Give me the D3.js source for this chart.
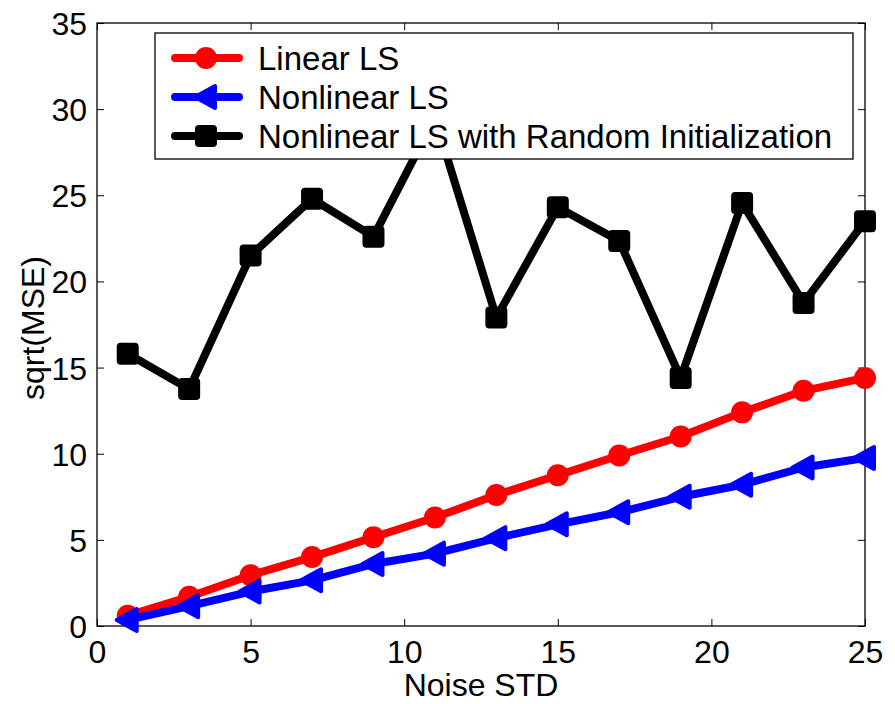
<!DOCTYPE html>
<html><head><meta charset="utf-8">
<script src="https://cdn.jsdelivr.net/npm/d3@7"></script>
<style>body{margin:0;background:#fff}svg{display:block}text{font-family:"Liberation Sans",Arial,sans-serif}</style>
</head><body>
<svg id="c" width="895" height="704"></svg>
<script>
const noiseStd = [1,3,5,7,9,11,13,15,17,19,21,23,25];
const linearLS = [0.6,1.7,2.95,4.0,5.15,6.3,7.6,8.75,9.9,11.0,12.4,13.65,14.4];
const nonlinearLS = [0.35,1.15,2.0,2.65,3.6,4.2,5.1,5.9,6.6,7.5,8.2,9.2,9.75];
const nonlinearRandom = [15.8,13.75,21.5,24.8,22.6,29.5,17.9,24.3,22.35,14.4,24.55,18.75,23.5];
const xTicks = [0,5,10,15,20,25];
const yTicks = [0,5,10,15,20,25,30,35];
const seriesNames = ["Linear LS","Nonlinear LS","Nonlinear LS with Random Initialization"];
const seriesColors = ["#ff0000","#0000ff","#000000"];
const seriesMarkers = ["circle","triangle","square"];

const svg = d3.select("#c");
const L=97,R=865,T=23,B=626;
const x = d3.scaleLinear().domain([0,25]).range([L,R]);
const y = d3.scaleLinear().domain([0,35]).range([B,T]);

svg.append("rect").attr("x",L).attr("y",T).attr("width",R-L).attr("height",B-T)
  .attr("fill","none").attr("stroke","#000").attr("stroke-width",1.3);

const fs = 32;
const gx = svg.append("g").attr("transform",`translate(0,${B})`)
  .call(d3.axisBottom(x).tickValues(xTicks).tickSizeInner(-7).tickSizeOuter(0).tickPadding(14));
const gy = svg.append("g").attr("transform",`translate(${L},0)`)
  .call(d3.axisLeft(y).tickValues(yTicks).tickSizeInner(-7).tickSizeOuter(0).tickPadding(10));
const gx2 = svg.append("g").attr("transform",`translate(0,${T})`)
  .call(d3.axisTop(x).tickValues(xTicks).tickSizeInner(-7).tickSizeOuter(0).tickFormat(""));
const gy2 = svg.append("g").attr("transform",`translate(${R},0)`)
  .call(d3.axisRight(y).tickValues(yTicks).tickSizeInner(-7).tickSizeOuter(0).tickFormat(""));
[gx,gy,gx2,gy2].forEach(g=>{g.select(".domain").remove();
  g.selectAll("line").attr("stroke","#000").attr("stroke-width",1);
  g.selectAll("text").attr("font-size",fs).attr("fill","#000").attr("font-family","'Liberation Sans',Arial,sans-serif");});
gx.selectAll("text").attr("dy","0.71em");
gy.selectAll("text").attr("dy","0.36em");

svg.append("text").attr("x",481).attr("y",696).attr("text-anchor","middle")
  .attr("font-size",32).text("Noise STD");
svg.append("text").attr("transform",`translate(44,328) rotate(-90)`).attr("text-anchor","middle")
  .attr("font-size",32).text("sqrt(MSE)");

function marker(g, type, cx, cy, color){
  if(type==="circle") g.append("circle").attr("cx",cx).attr("cy",cy).attr("r",11).attr("fill",color);
  else if(type==="square") g.append("rect").attr("x",cx-10).attr("y",cy-10).attr("width",20).attr("height",20)
    .attr("rx",3).attr("fill",color).attr("stroke",color).attr("stroke-width",2);
  else g.append("path").attr("d",`M${cx-11},${cy} L${cx+9},${cy-11} L${cx+9},${cy+11} Z`)
    .attr("fill",color).attr("stroke",color).attr("stroke-width",4).attr("stroke-linejoin","round");
}

const allData = [linearLS, nonlinearLS, nonlinearRandom];
const line = d3.line().x(d=>x(d[0])).y(d=>y(d[1]));
allData.forEach((vals,i)=>{
  const pts = noiseStd.map((n,j)=>[n,vals[j]]);
  const g = svg.append("g");
  g.append("path").attr("d",line(pts)).attr("fill","none").attr("stroke",seriesColors[i])
    .attr("stroke-width",8).attr("stroke-linejoin","round").attr("stroke-linecap","round");
  pts.forEach(p=>marker(g, seriesMarkers[i], x(p[0]), y(p[1]), seriesColors[i]));
});

const lg = svg.append("g");
lg.append("rect").attr("x",155).attr("y",33).attr("width",698).attr("height",126)
  .attr("fill","#fff").attr("stroke","#000").attr("stroke-width",1.3);
seriesNames.forEach((name,i)=>{
  const yy = 58 + i*39;
  lg.append("line").attr("x1",175).attr("x2",239).attr("y1",yy).attr("y2",yy)
    .attr("stroke",seriesColors[i]).attr("stroke-width",8).attr("stroke-linecap","round");
  marker(lg, seriesMarkers[i], 206, yy, seriesColors[i]);
  lg.append("text").attr("x",258).attr("y",yy).attr("dy","0.36em").attr("font-size",33).text(name);
});
</script>
</body></html>
